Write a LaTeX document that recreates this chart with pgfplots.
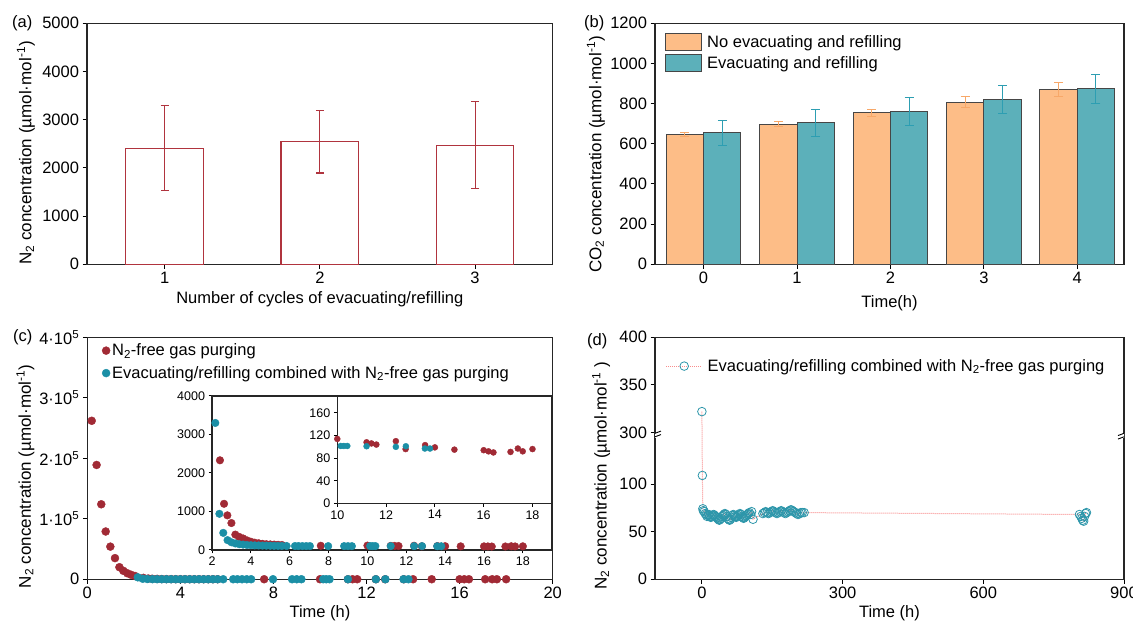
\documentclass[border=0pt]{standalone}
\usepackage{fontspec}
\setmainfont{Liberation Sans}
\usepackage{pgfplots}
\usepackage{pgfplotstable}
\pgfplotsset{compat=1.18}
\definecolor{redA}{RGB}{176,52,62}
\definecolor{cRed}{RGB}{161,42,53}
\definecolor{cTeal}{RGB}{27,143,166}
\definecolor{bOr}{RGB}{253,189,135}
\definecolor{bTe}{RGB}{92,176,186}
\definecolor{eOr}{RGB}{247,168,105}
\definecolor{eTe}{RGB}{45,158,178}
\definecolor{edge}{RGB}{70,70,70}
\definecolor{dLine}{RGB}{248,140,140}
\definecolor{dMark}{RGB}{45,150,170}
\newcommand\fmain{\fontsize{16.5}{19}\selectfont}
\newcommand\flab{\fontsize{17}{20}\selectfont}
\newcommand\fsmall{\fontsize{12.5}{15}\selectfont}

\pgfplotstableread{
x y
0.19 262000
0.40 189000
0.60 124000
0.79 79000
0.99 54000
1.19 35000
1.38 20000
1.55 14000
1.72 10000
1.88 7500
2.05 5500
2.41 2330
2.62 1200
2.79 900
3.00 700
3.20 400
3.40 340
3.60 300
3.80 250
4.00 215
4.20 190
4.40 175
4.60 160
4.80 150
5.00 145
5.20 140
5.40 135
5.60 130
7.60 110
10.00 114
11.20 108
11.40 106
11.60 104
12.40 110
12.80 96
13.60 103
14.00 99
14.80 95
16.00 94
16.20 92
16.40 90
17.10 91
17.40 97
17.60 92
18.00 96
}\redtab

\pgfplotstableread{
x y
2.17 3300
2.38 940
2.58 445
2.80 256
3.00 200
3.20 170
3.40 150
3.60 140
3.80 130
4.00 125
4.20 120
4.40 118
4.60 115
4.80 112
5.00 110
5.20 108
5.40 106
5.60 105
5.84 104
6.27 103
6.45 103
6.65 102
6.85 102
7.04 102
7.98 101
8.80 101
9.00 101
9.20 100
10.14 101.5
10.27 101.5
10.41 101.5
11.20 101
12.40 100
12.81 101
13.59 97
13.80 97
}\bluetab

\pgfplotstableread{
x y
0 322
1 109
2 74
3 72
5 71
7 69
9 68
11 66
13 67
15 68
17 66
19 65
21 66
23 67
25 68
27 67
29 66
31 65
33 64
35 63
37 62
39 63
41 64
43 66
45 67
47 68
49 69
51 68
53 66
55 64
57 63
59 62
61 63
63 65
65 67
67 68
69 67
71 66
73 65
75 66
77 67
79 68
81 69
83 68
85 66
87 65
89 64
91 65
93 66
95 67
97 68
99 69
101 70
104 68
106 71
109 63
130 69
133 70
136 71
139 70
142 69
145 70
148 71
151 72
154 71
157 70
160 69
163 70
166 71
169 72
172 71
175 70
178 69
181 70
184 71
187 72
190 73
193 72
196 71
199 70
202 69
205 68
208 69
211 70
214 70
218 70
805 68
808 66
810 64
812 62
814 61
816 66
818 69
820 70
}\dtab

\pgfplotsset{
  base/.style={
    scale only axis, anchor=south west,
    tick align=outside, tick pos=left,
    major tick length=4.5pt,
    major tick style={line width=1pt, black},
    axis line style={line width=1.1pt, black!85},
    /pgf/number format/assume math mode=true,
    /pgf/number format/1000 sep={},
    scaled ticks=false,
    tick label style={font=\fmain},
    xlabel style={font=\fmain},
    ylabel style={font=\flab},
    legend style={font=\fmain, draw=none, fill=none, legend cell align=left},
  },
}

\begin{document}
\begin{tikzpicture}
\useasboundingbox (0,0) rectangle (1133pt,623pt);

% (a)
\begin{axis}[base, at={(87pt,358.7pt)}, width=465.7pt, height=241pt,
  xmin=0.5, xmax=3.5, ymin=0, ymax=5000,
  xtick={1,2,3}, ytick={0,1000,...,5000},
  xlabel={Number of cycles of evacuating/refilling},
  ylabel={N\textsubscript{2} concentration (µmol·mol\textsuperscript{-1})},
  ylabel style={at={(axis description cs:-0.131,0.462)},anchor=center},
  xlabel style={at={(axis description cs:0.5,-0.145)},anchor=center}]
\addplot[ybar, bar width=0.5, draw=redA, line width=1.1pt, fill=white,
  error bars/.cd, y dir=both, y explicit,
  error bar style={redA, line width=1.1pt},
  error mark options={rotate=90, mark size=4pt, redA, line width=1.1pt}]
  coordinates {(1,2409) +- (0,880) (2,2545) +- (0,650) (3,2469) +- (0,900)};
\end{axis}

% (b)
\begin{axis}[base, at={(655pt,358.7pt)}, width=469pt, height=241pt,
  xmin=-0.52, xmax=4.5, ymin=0, ymax=1200,
  xtick={0,1,2,3,4}, ytick={0,200,...,1200},
  xlabel={Time(h)},
  ylabel={CO\textsubscript{2} concentration (µmol·mol\textsuperscript{-1})},
  ylabel style={at={(axis description cs:-0.126,0.456)},anchor=center},
  xlabel style={at={(axis description cs:0.5,-0.16)},anchor=center},
  legend style={at={(axis description cs:0.015,0.968)}, anchor=north west, row sep=3pt},
  legend image code/.code={\draw[#1] (0pt,-8.5pt) rectangle (36pt,8.5pt); \path (39pt,0pt);}]
\addplot[ybar, bar width=0.4, bar shift=0, fill=bOr, draw=edge, line width=1pt,
  error bars/.cd, y dir=both, y explicit,
  error bar style={eOr, line width=1pt},
  error mark options={rotate=90, mark size=4.5pt, eOr, line width=1pt}]
  coordinates {(-0.2,646) +- (0,8) (0.8,697) +- (0,12) (1.8,755) +- (0,18) (2.8,808) +- (0,25) (3.8,869) +- (0,35)};
\addlegendentry{No evacuating and refilling}
\addplot[ybar, bar width=0.4, bar shift=0, fill=bTe, draw=edge, line width=1pt,
  error bars/.cd, y dir=both, y explicit,
  error bar style={eTe, line width=1pt},
  error mark options={rotate=90, mark size=4.5pt, eTe, line width=1pt}]
  coordinates {(0.2,654) +- (0,62) (1.2,705) +- (0,68) (2.2,760) +- (0,70) (3.2,819) +- (0,70) (4.2,874) +- (0,72)};
\addlegendentry{Evacuating and refilling}
\end{axis}

% (c) main
\begin{axis}[base, at={(87.3pt,43.7pt)}, width=465.4pt, height=242pt,
  xmin=0, xmax=20, ymin=0, ymax=400000, clip=false,
  xtick={0,4,...,20}, ytick={0,100000,200000,300000,400000},
  yticklabels={0,1·10\textsuperscript{5},2·10\textsuperscript{5},3·10\textsuperscript{5},4·10\textsuperscript{5}},
  xlabel={Time (h)},
  ylabel={N\textsubscript{2} concentration (µmol·mol\textsuperscript{-1})},
  ylabel style={at={(axis description cs:-0.133,0.425)},anchor=center},
  xlabel style={at={(axis description cs:0.5,-0.14)},anchor=center},
  legend style={at={(axis description cs:0.025,0.99)}, anchor=north west, row sep=5pt},
  legend image code/.code={\draw[mark repeat=2,mark phase=2,#1] plot coordinates {(0pt,0pt) (9pt,0pt) (18pt,0pt)};}]
\addplot[only marks, mark=*, mark size=4pt, cRed] table {\redtab};
\addlegendentry{N\textsubscript{2}-free gas purging}
\addplot[only marks, mark=*, mark size=4pt, cTeal] table {\bluetab};
\addlegendentry{Evacuating/refilling combined with N\textsubscript{2}-free gas purging}
\end{axis}

% (c) inset 1
\begin{axis}[base, at={(212pt,73pt)}, width=340pt, height=154pt,
  xmin=2, xmax=19.5, ymin=0, ymax=4000, clip=false,
  axis background/.style={fill=white},
  major tick length=3.5pt,
  tick label style={font=\fsmall},
  xtick={2,4,...,18}, ytick={0,1000,...,4000}]
\addplot[only marks, mark=*, mark size=3.8pt, cRed, restrict x to domain=2:20, restrict y to domain=0:4000] table {\redtab};
\addplot[only marks, mark=*, mark size=3.8pt, cTeal, restrict x to domain=2:20, restrict y to domain=0:4000] table {\bluetab};
\end{axis}

% (c) inset 2
\begin{axis}[base, at={(337.3pt,119.7pt)}, width=214.7pt, height=107.3pt,
  xmin=10, xmax=18.8, ymin=0, ymax=190, clip=false,
  axis background/.style={fill=white},
  major tick length=3.5pt,
  tick label style={font=\fsmall},
  xtick={10,12,...,18}, ytick={0,40,...,160}]
\addplot[only marks, mark=*, mark size=3pt, cRed, restrict x to domain=9.9:20] table {\redtab};
\addplot[only marks, mark=*, mark size=3pt, cTeal, restrict x to domain=9.9:20] table {\bluetab};
\end{axis}

% (d)
\begin{axis}[base, at={(655pt,43.7pt)}, width=469pt, height=242pt,
  xmin=-100, xmax=900, ymin=0, ymax=254,
  xtick={0,300,600,900}, ytick={0,50,100,154,204,254},
  yticklabels={0,50,100,300,350,400},
  y filter/.expression={y>200 ? y-146 : y},
  xlabel={Time (h)},
  ylabel={N\textsubscript{2} concentration (µmol·mol\textsuperscript{-1} )},
  ylabel style={at={(axis description cs:-0.115,0.428)},anchor=center},
  xlabel style={at={(axis description cs:0.5,-0.14)},anchor=center},
  legend style={at={(axis description cs:0.016,0.881)}, anchor=west},
  legend image code/.code={\draw[mark repeat=2,mark phase=2,#1] plot coordinates {(0pt,0pt) (18pt,0pt) (36pt,0pt)}; \path (39pt,0pt);}]
\addplot[densely dotted, dLine, line width=1pt, mark=o, mark size=4.3pt,
  mark options={solid, dMark, line width=0.8pt}] table {\dtab};
\addlegendentry{Evacuating/refilling combined with N\textsubscript{2}-free gas purging}
\fill[white] ([xshift=-6pt,yshift=-2.5pt]rel axis cs:0,0.596) rectangle ([xshift=6pt,yshift=2.5pt]rel axis cs:0,0.596);
\draw[line width=0.9pt] ([xshift=-6pt,yshift=-0.5pt]rel axis cs:0,0.596) -- ([xshift=6pt,yshift=4pt]rel axis cs:0,0.596);
\draw[line width=0.9pt] ([xshift=-6pt,yshift=-4pt]rel axis cs:0,0.596) -- ([xshift=6pt,yshift=0.5pt]rel axis cs:0,0.596);
\fill[white] ([xshift=-6pt,yshift=-2.5pt]rel axis cs:1,0.596) rectangle ([xshift=6pt,yshift=2.5pt]rel axis cs:1,0.596);
\draw[line width=0.9pt] ([xshift=-6pt,yshift=-0.5pt]rel axis cs:1,0.596) -- ([xshift=6pt,yshift=4pt]rel axis cs:1,0.596);
\draw[line width=0.9pt] ([xshift=-6pt,yshift=-4pt]rel axis cs:1,0.596) -- ([xshift=6pt,yshift=0.5pt]rel axis cs:1,0.596);
\end{axis}

\node[anchor=west, inner sep=0pt, font=\fmain] at (12pt,599.7pt) {(a)};
\node[anchor=west, inner sep=0pt, font=\fmain] at (584pt,599.7pt) {(b)};
\node[anchor=west, inner sep=0pt, font=\fmain] at (13pt,286pt) {(c)};
\node[anchor=west, inner sep=0pt, font=\fmain] at (587pt,281.3pt) {(d)};
\end{tikzpicture}
\end{document}
